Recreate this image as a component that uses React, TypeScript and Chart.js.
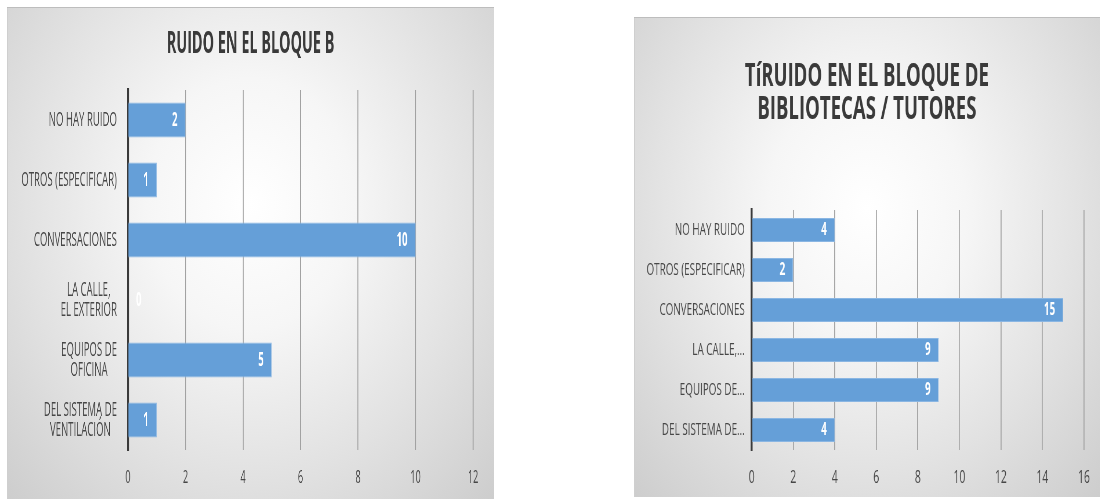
import React, { useEffect, useRef } from "react";
import { Chart, registerables } from "chart.js";

Chart.register(...registerables);

// ---------- data ----------
const leftTitle = "RUIDO EN EL BLOQUE B";
const leftCategories: (string | string[])[] = [
  "NO HAY RUIDO",
  "OTROS (ESPECIFICAR)",
  "CONVERSACIONES",
  ["LA CALLE,", "EL EXTERIOR"],
  ["EQUIPOS DE", "OFICINA"],
  ["DEL SISTEMA DE", "VENTILACIÓN"],
];
const leftValues = [2, 1, 10, 0, 5, 1];
const leftTicks = [0, 2, 4, 6, 8, 10, 12];

const rightTitle = ["TíRUIDO EN EL BLOQUE DE", "BIBLIOTECAS / TUTORES"];
const rightCategories: string[] = [
  "NO HAY RUIDO",
  "OTROS (ESPECIFICAR)",
  "CONVERSACIONES",
  "LA CALLE,...",
  "EQUIPOS DE...",
  "DEL SISTEMA DE...",
];
const rightValues = [4, 2, 15, 9, 9, 4];
const rightTicks = [0, 2, 4, 6, 8, 10, 12, 14, 16];

// ---------- styling ----------
const FONT = "'Open Sans', 'Noto Sans', sans-serif";
const BAR_COLOR = "#659fd8";
const BAR_BORDER = "#8ab6e3";
const TEXT_COLOR = "#474747";
const TITLE_COLOR = "#3a3a3a";
const GRID_COLOR = "#a2a2a2";

type Spec = {
  title: string | string[];
  titleSize: number;
  titleLineHeight: number;
  titlePadTop: number;
  titlePadBottom: number;
  categories: (string | string[])[];
  values: number[];
  ticks: number[];
  canvasW: number;
  canvasH: number;
  sx: number;
  padSide: number;
  yAxisW: number;
  xAxisH: number;
  yFont: number;
  yLineGap: number;
  yPad: number;
  xFont: number;
  xPad: number;
  labelFont: number;
  barPct: number;
};

// white value labels inside the bar ends
const valueLabels = {
  id: "valueLabels",
  afterDatasetsDraw(chart: any, _args: any, opts: any) {
    const ctx = chart.ctx;
    const meta = chart.getDatasetMeta(0);
    const data = chart.data.datasets[0].data;
    ctx.save();
    ctx.font = `bold ${opts.size}px ${FONT}`;
    ctx.fillStyle = "#ffffff";
    ctx.textBaseline = "middle";
    meta.data.forEach((bar: any, i: number) => {
      const text = String(data[i]);
      const w = ctx.measureText(text).width;
      const pad = opts.pad;
      if (bar.x - bar.base - 2 * pad >= w) {
        ctx.textAlign = "right";
        ctx.fillText(text, bar.x - pad, bar.y);
      } else {
        ctx.textAlign = "left";
        ctx.fillText(text, bar.base + pad, bar.y);
      }
    });
    ctx.restore();
  },
};

// category labels: block right-aligned to the axis, each line centred within the block
const categoryLabels = {
  id: "categoryLabels",
  afterDraw(chart: any, _args: any, opts: any) {
    const yScale = chart.scales.y;
    const ctx = chart.ctx;
    ctx.save();
    ctx.font = `${opts.size}px ${FONT}`;
    ctx.fillStyle = TEXT_COLOR;
    ctx.textAlign = "center";
    ctx.textBaseline = "middle";
    (chart.data.labels as any[]).forEach((lab: any, i: number) => {
      const lines: string[] = Array.isArray(lab) ? lab : [lab];
      const bw = Math.max(...lines.map((l) => ctx.measureText(l).width));
      const cx = yScale.right - opts.pad - bw / 2;
      const cy = yScale.getPixelForTick(i);
      lines.forEach((l, j) => {
        ctx.fillText(l, cx, cy + (j - (lines.length - 1) / 2) * opts.lineGap);
      });
    });
    ctx.restore();
  },
};

function BarChart({ spec }: { spec: Spec }) {
  const ref = useRef<HTMLCanvasElement | null>(null);
  useEffect(() => {
    if (!ref.current) return;
    const s = spec;
    const chart = new Chart(ref.current, {
      type: "bar",
      data: {
        labels: s.categories,
        datasets: [
          {
            data: s.values,
            backgroundColor: BAR_COLOR,
            borderColor: BAR_BORDER,
            borderWidth: 1,
            barPercentage: s.barPct,
            categoryPercentage: 1,
          },
        ],
      },
      options: {
        indexAxis: "y",
        responsive: false,
        animation: false,
        devicePixelRatio: 1,
        layout: { padding: { left: s.padSide, right: s.padSide, top: 0, bottom: 0 } },
        plugins: {
          legend: { display: false },
          tooltip: { enabled: false },
          title: {
            display: true,
            text: s.title,
            color: TITLE_COLOR,
            font: { family: FONT, size: s.titleSize, weight: "bold", lineHeight: s.titleLineHeight },
            padding: { top: s.titlePadTop, bottom: s.titlePadBottom },
          },
          valueLabels: { size: s.labelFont, pad: 8 / s.sx },
          categoryLabels: { size: s.yFont, pad: s.yPad, lineGap: s.yLineGap },
        } as any,
        scales: {
          x: {
            type: "linear",
            position: "bottom",
            min: s.ticks[0],
            max: s.ticks[s.ticks.length - 1],
            ticks: {
              stepSize: s.ticks[1] - s.ticks[0],
              color: TEXT_COLOR,
              font: { family: FONT, size: s.xFont, lineHeight: 1.2 },
              padding: s.xPad,
            },
            grid: { color: GRID_COLOR, lineWidth: 1 / s.sx, drawTicks: false },
            border: { display: false },
            afterFit: (scale: any) => {
              scale.height = s.xAxisH;
            },
          },
          y: {
            type: "category",
            ticks: { display: false, autoSkip: false },
            grid: { display: false, drawTicks: false },
            border: { display: true, color: "#3a3a3a", width: 2 / s.sx },
            afterFit: (scale: any) => {
              scale.width = s.yAxisW;
            },
          },
        },
      } as any,
      plugins: [valueLabels, categoryLabels],
    });
    return () => chart.destroy();
  }, [spec]);
  return (
    <canvas
      ref={ref}
      width={spec.canvasW}
      height={spec.canvasH}
      style={{ display: "block", width: spec.canvasW, height: spec.canvasH }}
    />
  );
}

function Panel({ left, top, w, h, spec }: { left: number; top: number; w: number; h: number; spec: Spec }) {
  return (
    <div
      style={{
        position: "absolute",
        left,
        top,
        width: w,
        height: h,
        overflow: "hidden",
        background:
          "radial-gradient(ellipse at 50% 40%, #ffffff 0%, #f6f6f6 30%, #e2e2e2 65%, #cdcdcd 100%)",
        boxShadow: "inset 0 1px 0 0 #bdbdbd, inset 1px 0 0 0 #cfcfcf",
      }}
    >
      <div
        style={{
          width: spec.canvasW,
          height: spec.canvasH,
          transform: `scaleX(${spec.sx})`,
          transformOrigin: "0 0",
        }}
      >
        <BarChart spec={spec} />
      </div>
    </div>
  );
}

const leftSpec: Spec = {
  title: leftTitle,
  titleSize: 30,
  titleLineHeight: 1.2,
  titlePadTop: 19,
  titlePadBottom: 28,
  categories: leftCategories,
  values: leftValues,
  ticks: leftTicks,
  canvasW: 1015,
  canvasH: 492,
  sx: 0.48,
  padSide: 44,
  yAxisW: 208,
  xAxisH: 49,
  yFont: 20,
  yLineGap: 20,
  yPad: 23,
  xFont: 19,
  xPad: 16,
  labelFont: 20,
  barPct: 0.58,
};

const rightSpec: Spec = {
  title: rightTitle,
  titleSize: 32,
  titleLineHeight: 1.03,
  titlePadTop: 43,
  titlePadBottom: 84,
  categories: rightCategories,
  values: rightValues,
  ticks: rightTicks,
  canvasW: 803,
  canvasH: 480,
  sx: 0.58,
  padSide: 20,
  yAxisW: 183,
  xAxisH: 47,
  yFont: 17,
  yLineGap: 20,
  yPad: 12,
  xFont: 18,
  xPad: 17,
  labelFont: 17,
  barPct: 0.6,
};

export default function App() {
  return (
    <div
      style={{
        position: "fixed",
        left: 0,
        top: 0,
        width: 1100,
        height: 500,
        background: "#ffffff",
        overflow: "hidden",
      }}
    >
      <Panel left={7} top={7} w={487} h={492} spec={leftSpec} />
      <Panel left={634} top={17} w={466} h={480} spec={rightSpec} />
    </div>
  );
}
